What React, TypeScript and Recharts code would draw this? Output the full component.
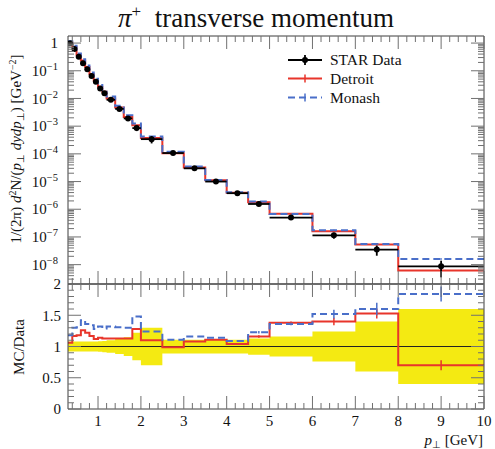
import {
  ComposedChart,
  Line,
  Area,
  Scatter,
  ErrorBar,
  XAxis,
  YAxis,
  ReferenceLine,
} from "recharts";

const WIDTH = 495;
const HEIGHT = 449;
const FONT = '"Liberation Serif", "Times New Roman", serif';

const RED = "#e8352b";
const BLUE = "#4a6fc9";
const YELLOW = "#f4ea12";
const FRAME = "#3c3c3c";
const TICK = "#707070";

// pT bin edges [GeV]
const binEdges = [
  0.3, 0.4, 0.5, 0.6, 0.7, 0.8, 0.9, 1.0, 1.1, 1.2, 1.4, 1.6, 1.8, 2.0, 2.5,
  3.0, 3.5, 4.0, 4.5, 5, 6, 7, 8, 10,
];

// STAR pi+ invariant yield per bin
const starYield = [
  0.98, 0.61, 0.32, 0.185, 0.113, 0.065, 0.04, 0.023, 0.0154, 0.0089, 0.0042,
  0.0019, 0.00085, 0.00034, 1.07e-4, 3.0e-5, 1.0e-5, 3.8e-6, 1.55e-6, 5.0e-7,
  1.14e-7, 3.5e-8, 8.7e-9,
];

// relative data uncertainty per bin
const starRelErr = [
  0.08, 0.08, 0.08, 0.08, 0.08, 0.08, 0.08, 0.085, 0.09, 0.1, 0.12, 0.15,
  0.22, 0.3, 0.11, 0.11, 0.11, 0.11, 0.13, 0.16, 0.24, 0.4, 0.6,
];

// MC / Data per bin
const detroitRatio = [
  1.06, 1.17, 1.18, 1.26, 1.22, 1.17, 1.12, 1.14, 1.13, 1.13, 1.13, 1.13,
  1.28, 1.1, 0.99, 1.08, 1.11, 1.04, 1.16, 1.38, 1.4, 1.53, 0.7,
];
const monashRatio = [
  1.18, 1.3, 1.31, 1.42, 1.36, 1.34, 1.28, 1.32, 1.29, 1.32, 1.31, 1.3, 1.48,
  1.24, 1.11, 1.16, 1.14, 1.09, 1.23, 1.36, 1.52, 1.6, 1.84,
];

// MC statistical uncertainty on the ratio
const detroitRatioErr = [
  0, 0, 0, 0, 0, 0, 0, 0, 0, 0, 0, 0, 0, 0, 0, 0, 0, 0.01, 0.02, 0.02, 0.06,
  0.08, 0.08,
];
const monashRatioErr = [
  0, 0, 0, 0, 0, 0, 0, 0, 0, 0, 0, 0, 0, 0, 0, 0, 0, 0.01, 0.02, 0.02, 0.07,
  0.1, 0.12,
];

const xMajorTicks = [1, 2, 3, 4, 5, 6, 7, 8, 9, 10];
const logMajorTicks = [1e-8, 1e-7, 1e-6, 1e-5, 1e-4, 1e-3, 1e-2, 1e-1, 1];
const ratioMajorTicks = [0, 0.5, 1, 1.5, 2];
const ratioTickLabels = ["0", "0.5", "1", "1.5", "2"];

const X_DOMAIN: [number, number] = [0.3, 10];
const Y_DOMAIN: [number, number] = [2e-9, 1.8];
const R_DOMAIN: [number, number] = [0, 2];

// minor tick positions
const xMinorTicks = Array.from({ length: 48 }, (_, k) => (k + 2) / 5).filter(
  (v) => Math.abs(v - Math.round(v)) > 1e-6,
);
const logMinorTicks: number[] = [];
for (let e = -9; e <= 0; e++) {
  for (let m = 2; m <= 9; m++) {
    const v = m * Math.pow(10, e);
    if (v >= Y_DOMAIN[0] && v <= Y_DOMAIN[1]) logMinorTicks.push(v);
  }
}
const ratioMinorTicks = Array.from({ length: 19 }, (_, k) => (k + 1) / 10).filter(
  (_, k) => (k + 1) % 5 !== 0,
);

const xTicks = [...xMajorTicks, ...xMinorTicks].sort((a, b) => a - b);
const logTicks = [...logMajorTicks, ...logMinorTicks].sort((a, b) => a - b);
const ratioTicks = [...ratioMajorTicks, ...ratioMinorTicks].sort((a, b) => a - b);

const nBins = starYield.length;
const centers = starYield.map((_, i) => (binEdges[i] + binEdges[i + 1]) / 2);
const halfWidths = starYield.map((_, i) => (binEdges[i + 1] - binEdges[i]) / 2);

// step outline rows: one per bin edge, last edge repeats the last bin
const stepRows = binEdges.map((x, i) => {
  const j = Math.min(i, nBins - 1);
  return {
    x,
    detroit: starYield[j] * detroitRatio[j],
    monash: starYield[j] * monashRatio[j],
    detroitR: detroitRatio[j],
    monashR: monashRatio[j],
    band: [1 - starRelErr[j], 1 + starRelErr[j]],
  };
});

const dataPoints = starYield.map((y, i) => ({
  x: centers[i],
  y,
  xErr: halfWidths[i],
  yErr: y * starRelErr[i],
}));

const mcPoints = (ratio: number[], err: number[], absolute: boolean) =>
  ratio.map((r, i) => ({
    x: centers[i],
    y: absolute ? starYield[i] * r : r,
    yErr: absolute ? starYield[i] * err[i] : err[i],
  }));

const detroitAbs = mcPoints(detroitRatio, detroitRatioErr, true);
const monashAbs = mcPoints(monashRatio, monashRatioErr, true);
const detroitRel = mcPoints(detroitRatio, detroitRatioErr, false);
const monashRel = mcPoints(monashRatio, monashRatioErr, false);

const labelStyle = { fontFamily: FONT, fontSize: 15, fill: "#111" };

const isInt = (v: number) => Math.abs(v - Math.round(v)) < 1e-6;

function makeXTick(dir: 1 | -1, withLabel: boolean) {
  return (props: any) => {
    const { x, y, payload } = props;
    const v = payload.value as number;
    const major = isInt(v);
    const len = major ? 13 : 6;
    return (
      <g>
        <line x1={x} x2={x} y1={y} y2={y + dir * len} stroke={TICK} strokeWidth={1} />
        {withLabel && major && (
          <text x={x} y={y + 12} dy="0.35em" textAnchor="middle" {...labelStyle}>
            {v}
          </text>
        )}
      </g>
    );
  };
}

function makeLogTick(side: "left" | "right") {
  return (props: any) => {
    const { x, y, payload } = props;
    const v = payload.value as number;
    const lg = Math.log10(v);
    const major = isInt(lg);
    const len = major ? 13 : 6;
    const dir = side === "left" ? 1 : -1;
    const exp = Math.round(lg);
    return (
      <g>
        <line x1={x} x2={x + dir * len} y1={y} y2={y} stroke={TICK} strokeWidth={1} />
        {side === "left" && major && (
          <text x={x - 10} y={y} dy="0.35em" textAnchor="end" {...labelStyle}>
            {exp === 0 ? (
              "1"
            ) : (
              <>
                10
                <tspan dy={-6} fontSize={10.5}>
                  {"\u2212" + String(-exp)}
                </tspan>
              </>
            )}
          </text>
        )}
      </g>
    );
  };
}

function makeRatioTick(side: "left" | "right") {
  return (props: any) => {
    const { x, y, payload } = props;
    const v = payload.value as number;
    const major = isInt(v * 2);
    const len = major ? 13 : 6;
    const dir = side === "left" ? 1 : -1;
    const idx = ratioMajorTicks.findIndex((t) => Math.abs(t - v) < 1e-6);
    return (
      <g>
        <line x1={x} x2={x + dir * len} y1={y} y2={y} stroke={TICK} strokeWidth={1} />
        {side === "left" && major && idx >= 0 && (
          <text x={x - 7} y={y} dy="0.35em" textAnchor="end" {...labelStyle}>
            {ratioTickLabels[idx]}
          </text>
        )}
      </g>
    );
  };
}

const XTickUp = makeXTick(-1, false);
const XTickDown = makeXTick(1, false);
const XTickUpLabelled = makeXTick(-1, true);
const LogTickLeft = makeLogTick("left");
const LogTickRight = makeLogTick("right");
const RatioTickLeft = makeRatioTick("left");
const RatioTickRight = makeRatioTick("right");

const DataDot = (p: any) => <circle cx={p.cx} cy={p.cy} r={3} fill="#000" />;
const NoShape = () => <g />;

const frameLine = { stroke: FRAME, strokeWidth: 1 };

function SpectrumPanel() {
  return (
    <ComposedChart
      width={WIDTH}
      height={HEIGHT}
      data={stepRows}
      margin={{ top: 35, right: 10, bottom: 164, left: 0 }}
    >
      <XAxis xAxisId="b" type="number" dataKey="x" domain={X_DOMAIN} allowDataOverflow
        ticks={xTicks} interval={0} height={1} orientation="bottom" tickSize={0}
        tickMargin={0} tickLine={false} tick={XTickUp} axisLine={frameLine} />
      <XAxis xAxisId="t" type="number" dataKey="x" domain={X_DOMAIN} allowDataOverflow
        ticks={xTicks} interval={0} height={1} orientation="top" tickSize={0}
        tickMargin={0} tickLine={false} tick={XTickDown} axisLine={frameLine} />
      <YAxis yAxisId="l" type="number" dataKey="y" scale="log" domain={Y_DOMAIN}
        allowDataOverflow ticks={logTicks} interval={0} width={68} tickSize={0}
        tickMargin={0} tickLine={false} tick={LogTickLeft} axisLine={frameLine} />
      <YAxis yAxisId="r" orientation="right" type="number" dataKey="y" scale="log"
        domain={Y_DOMAIN} allowDataOverflow ticks={logTicks} interval={0} width={1}
        tickSize={0} tickMargin={0} tickLine={false} tick={LogTickRight} axisLine={frameLine} />

      <Line xAxisId="b" yAxisId="l" type="stepAfter" dataKey="detroit" stroke={RED}
        strokeWidth={2} dot={false} isAnimationActive={false} />
      <Line xAxisId="b" yAxisId="l" type="stepAfter" dataKey="monash" stroke={BLUE}
        strokeWidth={2} strokeDasharray="7 4" dot={false} isAnimationActive={false} />
      <Scatter xAxisId="b" yAxisId="l" data={detroitAbs} shape={NoShape} isAnimationActive={false}>
        <ErrorBar dataKey="yErr" direction="y" width={0} stroke={RED} strokeWidth={1.5}
          isAnimationActive={false} />
      </Scatter>
      <Scatter xAxisId="b" yAxisId="l" data={monashAbs} shape={NoShape} isAnimationActive={false}>
        <ErrorBar dataKey="yErr" direction="y" width={0} stroke={BLUE} strokeWidth={1.5}
          isAnimationActive={false} />
      </Scatter>
      <Scatter xAxisId="b" yAxisId="l" data={dataPoints} shape={DataDot} isAnimationActive={false}>
        <ErrorBar dataKey="xErr" direction="x" width={0} stroke="#000" strokeWidth={1.8}
          isAnimationActive={false} />
        <ErrorBar dataKey="yErr" direction="y" width={0} stroke="#000" strokeWidth={1.8}
          isAnimationActive={false} />
      </Scatter>
    </ComposedChart>
  );
}

function RatioPanel() {
  return (
    <ComposedChart
      width={WIDTH}
      height={HEIGHT}
      data={stepRows}
      margin={{ top: 283, right: 10, bottom: 39, left: 0 }}
    >
      <XAxis xAxisId="b" type="number" dataKey="x" domain={X_DOMAIN} allowDataOverflow
        ticks={xTicks} interval={0} height={1} orientation="bottom" tickSize={0}
        tickMargin={0} tickLine={false} tick={XTickUpLabelled} axisLine={frameLine} />
      <XAxis xAxisId="t" type="number" dataKey="x" domain={X_DOMAIN} allowDataOverflow
        ticks={xTicks} interval={0} height={1} orientation="top" tickSize={0}
        tickMargin={0} tickLine={false} tick={XTickDown} axisLine={frameLine} />
      <YAxis yAxisId="l" type="number" dataKey="y" domain={R_DOMAIN} allowDataOverflow
        ticks={ratioTicks} interval={0} width={68} tickSize={0} tickMargin={0}
        tickLine={false} tick={RatioTickLeft} axisLine={frameLine} />
      <YAxis yAxisId="r" orientation="right" type="number" dataKey="y" domain={R_DOMAIN}
        allowDataOverflow ticks={ratioTicks} interval={0} width={1} tickSize={0}
        tickMargin={0} tickLine={false} tick={RatioTickRight} axisLine={frameLine} />

      <Area xAxisId="b" yAxisId="l" type="stepAfter" dataKey="band" fill={YELLOW}
        fillOpacity={1} stroke="none" isAnimationActive={false} />
      <ReferenceLine xAxisId="b" yAxisId="l" y={1} stroke="#222" strokeWidth={1} />
      <Line xAxisId="b" yAxisId="l" type="stepAfter" dataKey="detroitR" stroke={RED}
        strokeWidth={2} dot={false} isAnimationActive={false} />
      <Line xAxisId="b" yAxisId="l" type="stepAfter" dataKey="monashR" stroke={BLUE}
        strokeWidth={2} strokeDasharray="7 4" dot={false} isAnimationActive={false} />
      <Scatter xAxisId="b" yAxisId="l" data={detroitRel} shape={NoShape} isAnimationActive={false}>
        <ErrorBar dataKey="yErr" direction="y" width={0} stroke={RED} strokeWidth={1.5}
          isAnimationActive={false} />
      </Scatter>
      <Scatter xAxisId="b" yAxisId="l" data={monashRel} shape={NoShape} isAnimationActive={false}>
        <ErrorBar dataKey="yErr" direction="y" width={0} stroke={BLUE} strokeWidth={1.5}
          isAnimationActive={false} />
      </Scatter>
    </ComposedChart>
  );
}

function Labels() {
  const t = { fontFamily: FONT, fill: "#111" };
  return (
    <svg width={WIDTH} height={HEIGHT} style={{ position: "absolute", left: 0, top: 0, pointerEvents: "none" }}>
      <text x={256} y={27} textAnchor="middle" fontSize={27} {...t}>
        <tspan fontStyle="italic">π</tspan>
        <tspan dy={-10} fontSize={17}>+</tspan>
        <tspan dy={10}>{"\u2002transverse momentum"}</tspan>
      </text>

      <text transform="translate(21,149) rotate(-90)" textAnchor="middle" fontSize={15} {...t}>
        1/(2π)
        <tspan fontStyle="italic">{" d"}</tspan>
        <tspan dy={-5} fontSize={10}>2</tspan>
        <tspan dy={5}>N/(</tspan>
        <tspan fontStyle="italic">p</tspan>
        <tspan dy={3} fontSize={10}>⊥</tspan>
        <tspan dy={-3} fontStyle="italic">{" dydp"}</tspan>
        <tspan dy={3} fontSize={10}>⊥</tspan>
        <tspan dy={-3}>) [GeV</tspan>
        <tspan dy={-5} fontSize={10}>−2</tspan>
        <tspan dy={5}>]</tspan>
      </text>

      <text transform="translate(24,347) rotate(-90)" textAnchor="middle" fontSize={15} {...t}>
        MC/Data
      </text>

      <text x={483} y={445} textAnchor="end" fontSize={15} {...t}>
        <tspan fontStyle="italic">p</tspan>
        <tspan dy={3} fontSize={10}>⊥</tspan>
        <tspan dy={-3}>{" [GeV]"}</tspan>
      </text>

      {/* legend */}
      <g>
        <line x1={288} x2={322} y1={60} y2={60} stroke="#000" strokeWidth={2} />
        <line x1={305} x2={305} y1={55} y2={65} stroke="#000" strokeWidth={1.8} />
        <circle cx={305} cy={60} r={3} fill="#000" />
        <text x={330} y={60} dy="0.35em" fontSize={15.5} {...t}>STAR Data</text>

        <line x1={288} x2={322} y1={78.5} y2={78.5} stroke={RED} strokeWidth={2} />
        <line x1={305} x2={305} y1={74.5} y2={82.5} stroke={RED} strokeWidth={1.5} />
        <text x={330} y={78.5} dy="0.35em" fontSize={15.5} {...t}>Detroit</text>

        <line x1={288} x2={322} y1={97.5} y2={97.5} stroke={BLUE} strokeWidth={2} strokeDasharray="7 4" />
        <line x1={305} x2={305} y1={93.5} y2={101.5} stroke={BLUE} strokeWidth={1.5} />
        <text x={330} y={97.5} dy="0.35em" fontSize={15.5} {...t}>Monash</text>
      </g>
    </svg>
  );
}

export default function App() {
  return (
    <div style={{ position: "absolute", left: 0, top: 0, width: WIDTH, height: HEIGHT, background: "#fff" }}>
      <div style={{ position: "absolute", left: 0, top: 0 }}>
        <SpectrumPanel />
      </div>
      <div style={{ position: "absolute", left: 0, top: 0 }}>
        <RatioPanel />
      </div>
      <Labels />
    </div>
  );
}
